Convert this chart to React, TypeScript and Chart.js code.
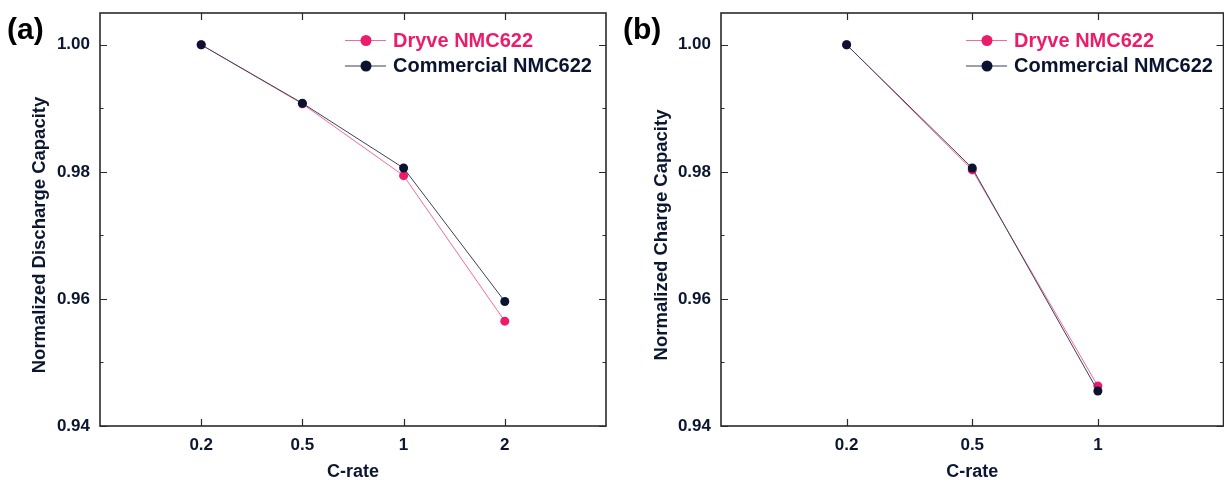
import React, { useEffect, useRef } from "react";
import { Chart, registerables } from "chart.js";
Chart.register(...registerables);

// ---------- data ----------
const CATS_A = ["0.2", "0.5", "1", "2"];
const DRYVE_A = [1.0, 0.9907, 0.9794, 0.9565];
const COMM_A = [1.0, 0.9908, 0.9806, 0.9596];

const CATS_B = ["0.2", "0.5", "1"];
const DRYVE_B = [1.0, 0.9803, 0.9463];
const COMM_B = [1.0, 0.9806, 0.9455];

const Y_MAJOR = [0.94, 0.96, 0.98, 1.0];
const Y_MINOR = [0.95, 0.97, 0.99];
const Y_MIN = 0.94;
const Y_MAX = 1.005;

const SERIES_NAMES = ["Dryve NMC622", "Commercial NMC622"];
const X_TITLE = "C-rate";

// ---------- styles ----------
const FAMILY = '"Liberation Sans", Arial, Helvetica, sans-serif';
const TEXT = "#0b1630";
const PINK = "#ec1c6b";
const PINK_LINE = "#f06a9c";
const NAVY = "#0a1430";
const NAVY_LINE = "#3b4058";
const FRAME = "#2a2a2a";

type Panel = {
  left: number;
  width: number;
  areaLeft: number;
  areaRight: number;
  cats: string[];
  dryve: number[];
  comm: number[];
  yTitle: string;
  label: string;
  titleX: number;
};

const PANELS: Panel[] = [
  {
    left: 0,
    width: 614,
    areaLeft: 100,
    areaRight: 606,
    cats: CATS_A,
    dryve: DRYVE_A,
    comm: COMM_A,
    yTitle: "Normalized Discharge Capacity",
    label: "(a)",
    titleX: 40,
  },
  {
    left: 614,
    width: 614,
    areaLeft: 107,
    areaRight: 611,
    cats: CATS_B,
    dryve: DRYVE_B,
    comm: COMM_B,
    yTitle: "Normalized Charge Capacity",
    label: "(b)",
    titleX: 48,
  },
];

const H = 485;

function makePlugin(p: Panel) {
  return {
    id: "frameAndDecor",
    afterDraw(chart: any) {
      const ctx = chart.ctx as CanvasRenderingContext2D;
      const a = chart.chartArea;
      const xs = chart.scales.x;
      const ys = chart.scales.y;
      ctx.save();
      // frame
      ctx.strokeStyle = FRAME;
      ctx.lineWidth = 1.6;
      ctx.strokeRect(a.left, a.top, a.right - a.left, a.bottom - a.top);
      // x ticks (inward, top & bottom)
      ctx.lineWidth = 1.2;
      p.cats.forEach((_, i) => {
        const x = Math.round(xs.getPixelForValue(i)) + 0.5;
        ctx.beginPath();
        ctx.moveTo(x, a.bottom);
        ctx.lineTo(x, a.bottom - 7);
        ctx.moveTo(x, a.top);
        ctx.lineTo(x, a.top + 7);
        ctx.stroke();
      });
      // y ticks (inward, left & right)
      const yTick = (v: number, len: number) => {
        const y = Math.round(ys.getPixelForValue(v)) + 0.5;
        ctx.beginPath();
        ctx.moveTo(a.left, y);
        ctx.lineTo(a.left + len, y);
        ctx.moveTo(a.right, y);
        ctx.lineTo(a.right - len, y);
        ctx.stroke();
      };
      Y_MAJOR.forEach((v) => yTick(v, 7));
      Y_MINOR.forEach((v) => yTick(v, 3.5));

      // y title
      ctx.fillStyle = TEXT;
      ctx.font = `bold 18.5px ${FAMILY}`;
      ctx.textAlign = "center";
      ctx.textBaseline = "middle";
      ctx.save();
      ctx.translate(p.titleX, 235);
      ctx.rotate(-Math.PI / 2);
      ctx.fillText(p.yTitle, 0, 0);
      ctx.restore();

      // panel label
      ctx.font = `bold 30px ${FAMILY}`;
      ctx.textAlign = "left";
      ctx.textBaseline = "middle";
      ctx.fillStyle = "#000000";
      ctx.fillText(p.label, p.left === 0 ? 7 : 9, 31);

      // legend
      const lx = a.left + 245;
      chart.data.datasets.forEach((ds: any, i: number) => {
        const y = 40 + i * 25.5;
        ctx.strokeStyle = ds.borderColor;
        ctx.lineWidth = 1;
        ctx.beginPath();
        ctx.moveTo(lx, y + 0.5);
        ctx.lineTo(lx + 41, y + 0.5);
        ctx.stroke();
        ctx.fillStyle = ds.pointBackgroundColor;
        ctx.beginPath();
        ctx.arc(lx + 21, y + 0.5, 5.5, 0, Math.PI * 2);
        ctx.fill();
        ctx.font = `bold 20px ${FAMILY}`;
        ctx.textAlign = "left";
        ctx.textBaseline = "middle";
        ctx.fillStyle = ds.pointBackgroundColor;
        ctx.fillText(ds.label, lx + 48, y + 1);
      });
      ctx.restore();
    },
  };
}

function PanelChart({ p }: { p: Panel }) {
  const ref = useRef<HTMLCanvasElement | null>(null);
  useEffect(() => {
    if (!ref.current) return;
    const n = p.cats.length;
    const tickFont = { family: FAMILY, size: 17, weight: "bold" as const };
    const chart = new Chart(ref.current, {
      type: "line",
      data: {
        datasets: [
          {
            label: SERIES_NAMES[0],
            data: p.dryve.map((v, i) => ({ x: i, y: v })),
            borderColor: PINK_LINE,
            backgroundColor: PINK,
            pointBackgroundColor: PINK,
            pointBorderColor: PINK,
            pointRadius: 4.5,
            pointBorderWidth: 0,
            borderWidth: 1,
            order: 1,
          },
          {
            label: SERIES_NAMES[1],
            data: p.comm.map((v, i) => ({ x: i, y: v })),
            borderColor: NAVY_LINE,
            backgroundColor: NAVY,
            pointBackgroundColor: NAVY,
            pointBorderColor: NAVY,
            pointRadius: 4.5,
            pointBorderWidth: 0,
            borderWidth: 1,
            order: 0,
          },
        ],
      },
      options: {
        animation: false,
        responsive: false,
        devicePixelRatio: 1,
        layout: { padding: 0 },
        plugins: { legend: { display: false }, tooltip: { enabled: false } },
        scales: {
          x: {
            type: "linear",
            position: "bottom",
            min: -1,
            max: n,
            grid: { display: false, drawTicks: false },
            border: { display: false },
            afterBuildTicks: (s: any) => {
              s.ticks = p.cats.map((_, i) => ({ value: i }));
            },
            ticks: {
              padding: 9,
              color: TEXT,
              font: tickFont,
              autoSkip: false,
              maxRotation: 0,
              callback: (v: any) => p.cats[Number(v)] ?? "",
            },
            title: {
              display: true,
              text: X_TITLE,
              color: TEXT,
              font: { family: FAMILY, size: 18, weight: "bold" },
              padding: { top: 0, bottom: 2 },
            },
            afterFit: (s: any) => {
              s.height = H - 426;
              s.paddingLeft = 0;
              s.paddingRight = 0;
            },
          },
          xTop: {
            type: "linear",
            position: "top",
            min: -1,
            max: n,
            grid: { display: false, drawTicks: false },
            border: { display: false },
            ticks: { display: false },
            afterFit: (s: any) => {
              s.height = 13;
              s.paddingLeft = 0;
              s.paddingRight = 0;
            },
          },
          y: {
            type: "linear",
            position: "left",
            min: Y_MIN,
            max: Y_MAX,
            grid: { display: false, drawTicks: false },
            border: { display: false },
            afterBuildTicks: (s: any) => {
              s.ticks = Y_MAJOR.map((v) => ({ value: v }));
            },
            ticks: {
              padding: 10,
              color: TEXT,
              font: tickFont,
              callback: (v: any) => Number(v).toFixed(2),
            },
            afterFit: (s: any) => {
              s.width = p.areaLeft;
              s.paddingTop = 0;
              s.paddingBottom = 0;
            },
          },
          yRight: {
            type: "linear",
            position: "right",
            min: Y_MIN,
            max: Y_MAX,
            grid: { display: false, drawTicks: false },
            border: { display: false },
            ticks: { display: false },
            afterFit: (s: any) => {
              s.width = p.width - p.areaRight;
              s.paddingTop = 0;
              s.paddingBottom = 0;
            },
          },
        },
      },
      plugins: [makePlugin(p)],
    });
    return () => chart.destroy();
  }, [p]);
  return (
    <canvas
      ref={ref}
      width={p.width}
      height={H}
      style={{
        position: "absolute",
        left: p.left,
        top: 0,
        width: p.width,
        height: H,
      }}
    />
  );
}

export default function App() {
  return (
    <div
      style={{
        position: "absolute",
        left: 0,
        top: 0,
        width: 1224,
        height: H,
        overflow: "hidden",
        background: "#ffffff",
      }}
    >
      {PANELS.map((p) => (
        <PanelChart key={p.label} p={p} />
      ))}
    </div>
  );
}
